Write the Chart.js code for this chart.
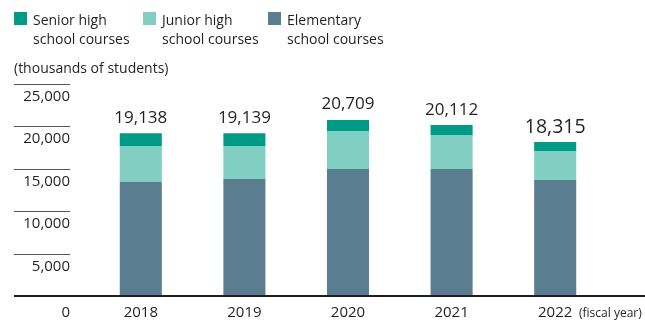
<!DOCTYPE html>
<html>
<head>
<meta charset="utf-8">
<script src="https://cdn.jsdelivr.net/npm/chart.js@4"></script>
<style>
html,body{margin:0;padding:0;background:#fff;}
#wrap{width:645px;height:323px;position:relative;}
</style>
</head>
<body>
<div id="wrap"><canvas id="c" width="645" height="323"></canvas></div>
<script>
const years = ['2018', '2019', '2020', '2021', '2022'];
const elementary = [13450, 13765, 14940, 14940, 13650];
const juniorHigh = [4200, 3880, 4470, 4000, 3410];
const seniorHigh = [1488, 1494, 1299, 1172, 1060];
const totals = ['19,138', '19,139', '20,709', '20,112', '18,315'];
const yTicks = [25000, 20000, 15000, 10000, 5000];
const yTickLabels = ['25,000', '20,000', '15,000', '10,000', '5,000'];
const legendItems = [
  ['Senior high', 'school courses'],
  ['Junior high', 'school courses'],
  ['Elementary', 'school courses']
];
const colors = { senior: '#009b87', junior: '#80cfc2', elem: '#5a7e90' };
const FONT = '"Open Sans", "Noto Sans", sans-serif';
const TXT = '#231f20';

const overlay = {
  id: 'overlay',
  afterDraw(chart) {
    const ctx = chart.ctx;
    const y = chart.scales.y, x = chart.scales.x;
    ctx.save();
    // legend
    const legX = [14, 143, 268];
    const legCol = [colors.senior, colors.junior, colors.elem];
    ctx.font = '14px ' + FONT;
    ctx.fillStyle = TXT;
    ctx.textAlign = 'left';
    ctx.textBaseline = 'alphabetic';
    legendItems.forEach((it, i) => {
      ctx.fillStyle = legCol[i];
      ctx.fillRect(legX[i], 12, 13, 13);
      ctx.fillStyle = TXT;
      ctx.fillText(it[0], legX[i] + 19, 25);
      ctx.fillText(it[1], legX[i] + 19, 44);
    });
    // unit
    ctx.fillText('(thousands of students)', 14, 73);
    // y grid segments and labels
    ctx.strokeStyle = '#555';
    ctx.lineWidth = 1;
    ctx.font = '15px ' + FONT;
    ctx.textAlign = 'right';
    yTicks.forEach((v, i) => {
      const py = Math.round(y.getPixelForValue(v)) + 0.5;
      ctx.beginPath();
      ctx.moveTo(14, py);
      ctx.lineTo(70, py);
      ctx.stroke();
      ctx.fillText(yTickLabels[i], 70, py + 16.5);
    });
    const p0 = y.getPixelForValue(0);
    ctx.fillText('0', 70, p0 + 21);
    // baseline
    ctx.strokeStyle = '#231f20';
    ctx.lineWidth = 2;
    ctx.beginPath();
    ctx.moveTo(14, p0);
    ctx.lineTo(645, p0);
    ctx.stroke();
    // x labels
    ctx.textAlign = 'center';
    years.forEach((yr, i) => {
      ctx.fillText(yr, x.getPixelForValue(i), p0 + 21);
    });
    ctx.font = '12px ' + FONT;
    ctx.textAlign = 'left';
    ctx.fillText('(fiscal year)', 579, p0 + 21);
    // totals
    ctx.textAlign = 'center';
    years.forEach((yr, i) => {
      const last = i === years.length - 1;
      ctx.font = (last ? '19.5px ' : '17px ') + FONT;
      const tot = elementary[i] + juniorHigh[i] + seniorHigh[i];
      ctx.fillText(totals[i], x.getPixelForValue(i), y.getPixelForValue(tot) - (last ? 9.3 : 10.5));
    });
    ctx.restore();
  }
};

new Chart(document.getElementById('c'), {
  type: 'bar',
  data: {
    labels: years,
    datasets: [
      { label: 'Elementary school courses', data: elementary, backgroundColor: colors.elem },
      { label: 'Junior high school courses', data: juniorHigh, backgroundColor: colors.junior },
      { label: 'Senior high school courses', data: seniorHigh, backgroundColor: colors.senior }
    ]
  },
  options: {
    responsive: false,
    animation: false,
    layout: { padding: { left: 89, right: 38, top: 83.5, bottom: 27 } },
    plugins: { legend: { display: false }, tooltip: { enabled: false } },
    datasets: { bar: { categoryPercentage: 1, barPercentage: 0.406, borderWidth: 0 } },
    scales: {
      x: { stacked: true, display: false },
      y: { stacked: true, display: false, min: 0, max: 25000 }
    }
  },
  plugins: [overlay]
});
</script>
</body>
</html>
